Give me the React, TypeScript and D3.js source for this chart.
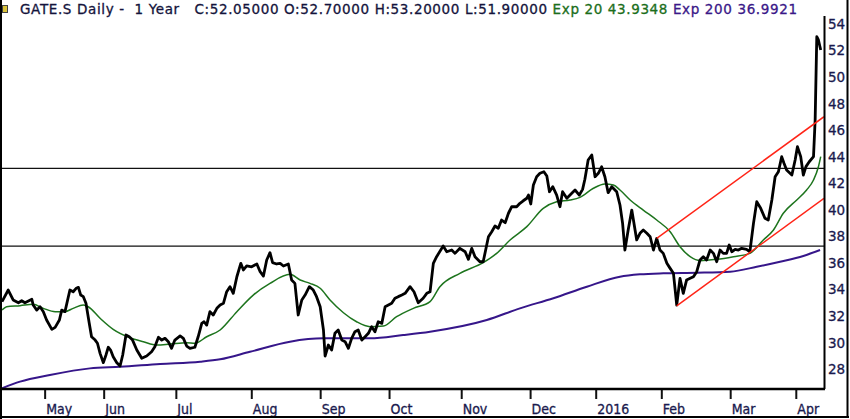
import { useEffect, useRef } from 'react';
import * as d3 from 'd3';

// [trading day index, price]
const closeSeries: [number, number][] = [
  [0, 33.09], [1.9, 33.97], [3.4, 33.22], [5.0, 33.01], [6.0, 33.16], [7.0, 33.01], [9.1, 33.27], [9.5, 32.84],
  [10.6, 32.46], [11.6, 32.71], [12.6, 32.34], [13.6, 31.71], [15.2, 31.01], [16.2, 31.16], [17.5, 31.71], [18.2, 32.46],
  [19.2, 32.34], [20.7, 33.97], [21.7, 33.84], [22.6, 34.10], [23.3, 34.17], [24.0, 33.59], [24.8, 33.47], [25.6, 32.97],
  [26.6, 31.46], [27.3, 30.45], [28.4, 30.20], [29.1, 29.96], [29.9, 29.20], [30.9, 28.50], [31.7, 29.08], [32.4, 29.66],
  [33.1, 29.45], [33.9, 28.95], [35.0, 28.50], [36.0, 28.25], [36.8, 29.08], [37.8, 30.58], [38.8, 30.45], [39.8, 30.20],
  [41.1, 29.45], [42.6, 28.83], [44.1, 29.00], [45.6, 29.32], [46.6, 29.70], [47.7, 30.41], [48.7, 30.20], [49.7, 30.33],
  [50.7, 30.08], [51.7, 29.58], [52.7, 30.20], [54.3, 30.51], [55.3, 30.33], [56.3, 29.75], [57.3, 29.58], [58.8, 29.66],
  [59.8, 30.45], [60.9, 31.46], [61.6, 31.58], [62.4, 31.33], [63.4, 32.34], [64.4, 32.09], [65.5, 32.59], [66.5, 32.84],
  [67.5, 32.97], [68.5, 33.84], [69.5, 34.22], [70.5, 33.72], [71.6, 34.97], [72.8, 35.98], [73.6, 35.48], [74.6, 35.78],
  [76.1, 35.72], [77.7, 35.93], [78.7, 35.35], [79.7, 35.02], [80.7, 36.23], [81.7, 36.78], [82.5, 36.03], [83.7, 35.93],
  [84.8, 35.98], [85.8, 35.78], [87.3, 35.93], [88.3, 34.72], [89.3, 34.47], [90.3, 32.09], [91.4, 33.22], [92.4, 33.59],
  [93.7, 34.22], [94.9, 33.97], [95.9, 33.47], [97.0, 32.71], [98.0, 30.96], [98.5, 29.00], [99.5, 29.83], [100.5, 29.45],
  [101.5, 30.71], [102.5, 30.96], [103.6, 30.20], [104.6, 30.08], [105.6, 29.58], [106.6, 30.33], [107.6, 30.83], [108.6, 30.96],
  [109.7, 30.20], [110.7, 30.45], [111.7, 30.71], [112.7, 31.21], [113.7, 30.83], [114.7, 31.58], [115.8, 31.46], [116.8, 32.71],
  [117.8, 32.84], [118.8, 32.97], [119.8, 33.35], [120.8, 33.47], [121.9, 33.59], [122.9, 33.72], [124.4, 34.22], [125.6, 33.84],
  [126.9, 33.01], [128.4, 33.35], [129.5, 33.72], [130.5, 33.84], [131.5, 35.98], [132.5, 36.48], [134.5, 37.28], [135.6, 36.85],
  [137.1, 36.98], [138.1, 36.73], [139.6, 37.11], [141.2, 36.85], [142.2, 36.28], [143.2, 37.11], [144.2, 36.48], [145.7, 36.10],
  [146.7, 36.10], [148.3, 37.98], [149.3, 38.36], [150.3, 38.79], [151.3, 38.62], [152.3, 39.24], [153.4, 39.04], [154.4, 39.75],
  [155.4, 40.24], [156.9, 40.24], [157.9, 40.50], [158.9, 40.69], [160.0, 40.88], [160.5, 41.12], [161.2, 40.45], [162.0, 41.88],
  [163.0, 42.50], [164.0, 42.76], [165.2, 42.88], [166.1, 42.55], [166.9, 41.37], [167.9, 41.75], [169.1, 41.12], [170.1, 40.24],
  [170.9, 41.37], [172.2, 40.88], [173.7, 41.25], [174.7, 41.50], [176.0, 41.12], [177.0, 41.55], [177.7, 42.31], [178.7, 43.76],
  [179.8, 44.14], [180.8, 42.50], [181.8, 42.76], [182.8, 43.25], [183.8, 42.50], [184.8, 41.30], [185.9, 41.75], [187.4, 41.37],
  [188.4, 40.37], [189.2, 38.99], [189.9, 36.98], [190.9, 38.49], [192.0, 39.99], [192.5, 39.24], [193.5, 37.74], [194.5, 38.24],
  [195.5, 38.49], [196.6, 38.24], [197.6, 37.98], [198.6, 36.98], [199.6, 37.86], [200.6, 36.98], [201.6, 36.73], [202.7, 35.98],
  [203.7, 35.60], [204.7, 35.23], [205.7, 32.84], [206.7, 34.85], [207.7, 33.72], [208.7, 34.72], [209.8, 34.85], [210.8, 34.97],
  [211.8, 35.35], [212.8, 36.23], [213.8, 36.48], [214.8, 36.23], [215.9, 36.98], [216.9, 36.73], [217.9, 36.10], [218.9, 36.98],
  [219.9, 36.73], [220.9, 36.73], [221.7, 37.36], [222.5, 36.85], [223.5, 37.03], [224.5, 36.98], [225.5, 37.11], [227.0, 37.03],
  [228.0, 36.85], [229.1, 38.99], [230.1, 40.62], [231.3, 40.12], [232.6, 39.37], [233.6, 39.24], [234.7, 40.75], [235.7, 42.50],
  [236.7, 42.88], [237.7, 44.01], [238.4, 43.51], [239.2, 43.01], [240.8, 42.63], [241.8, 43.76], [242.5, 44.76], [243.5, 44.01],
  [244.3, 42.63], [245.1, 43.26], [246.1, 43.63], [247.4, 44.01], [247.9, 46.77], [248.4, 53.04], [248.9, 52.80], [249.6, 52.04]
];

const ema20Series: [number, number][] = [
  [0, 32.46], [1.4, 32.71], [5.5, 32.79], [9.5, 32.89], [12.6, 32.59], [16.2, 32.34], [19.2, 32.34], [21.7, 32.59],
  [24.8, 32.84], [26.3, 32.71], [29.9, 31.84], [33.9, 31.01], [39.0, 30.38], [43.1, 30.08], [47.2, 29.83], [51.2, 29.90],
  [56.3, 30.00], [58.8, 29.96], [62.4, 30.45], [66.5, 30.96], [71.6, 32.34], [76.6, 33.59], [81.7, 34.47], [87.8, 35.15],
  [90.9, 34.72], [93.9, 34.47], [97.0, 34.10], [100.0, 33.22], [104.1, 32.26], [108.1, 31.58], [112.2, 31.21], [116.3, 31.26],
  [120.3, 31.96], [125.4, 32.59], [130.5, 33.09], [133.5, 34.22], [139.6, 35.23], [146.7, 36.03], [150.8, 36.73], [154.9, 37.74],
  [160.0, 38.74], [165.0, 40.12], [169.1, 40.62], [173.2, 40.75], [176.2, 40.95], [180.3, 41.63], [183.8, 41.95], [186.4, 41.88],
  [188.4, 41.50], [191.5, 40.75], [195.5, 39.99], [199.6, 39.24], [203.7, 38.36], [206.7, 37.23], [209.8, 36.48], [212.8, 36.18],
  [217.9, 36.28], [223.0, 36.48], [228.0, 36.73], [232.1, 37.74], [235.2, 38.49], [238.2, 39.75], [242.3, 40.75], [245.3, 41.50],
  [247.4, 42.25], [248.9, 43.25], [249.6, 44.01]
];

const ema200Series: [number, number][] = [
  [0, 26.57], [5.5, 27.07], [14.6, 27.57], [26.8, 28.07], [36.0, 28.19], [48.2, 28.40], [60.4, 28.57], [66.5, 28.75],
  [75.6, 29.32], [87.8, 30.08], [98.0, 30.33], [112.2, 30.33], [122.3, 30.58], [130.5, 30.83], [147.8, 31.71], [157.9, 32.59],
  [168.1, 33.35], [178.3, 34.22], [188.4, 34.97], [194.5, 35.15], [201.6, 35.23], [211.8, 35.27], [222.0, 35.35], [230.1, 35.72],
  [237.2, 36.10], [244.3, 36.53], [249.4, 36.98]
];

const trendLines: [number, number][][] = [
  [[199.6, 37.86], [250.6, 47.02]],
  [[205.7, 32.77], [250.6, 40.88]]
];

const levels = [43.13, 37.27];

const monthTicks = [13, 31, 53, 76, 97, 118, 140, 161, 181, 201, 222, 242];
const monthLabels = ['May', 'Jun', 'Jul', 'Aug', 'Sep', 'Oct', 'Nov', 'Dec', '2016', 'Feb', 'Mar', 'Apr'];
const priceTicks = [28, 30, 32, 34, 36, 38, 40, 42, 44, 46, 48, 50, 52, 54];

const headerParts = [
  { text: 'GATE.S Daily -  1 Year   C:52.05000 O:52.70000 H:53.20000 L:51.90000 ', color: '#14143c' },
  { text: 'Exp 20 43.9348 ', color: '#1b6e1b' },
  { text: 'Exp 200 36.9921', color: '#3a1888' }
];

export default function App() {
  const svgRef = useRef(null);

  useEffect(() => {
    if (!svgRef.current) return;
    const width = 850;
    const height = 419;
    const left = 2;
    const right = 824;
    const top = 16;
    const bottom = 389;

    const svg = d3.select(svgRef.current);
    svg.selectAll('*').remove();
    svg.attr('width', width).attr('height', height);

    const x = d3.scaleLinear().domain([0, 250.6]).range([left, right]);
    const y = d3.scaleLinear().domain([28, 54]).range([369.3, 24]);

    svg.append('rect').attr('width', width).attr('height', height).attr('fill', '#ffffff');

    svg.append('defs').append('clipPath').attr('id', 'plot')
      .append('rect')
      .attr('x', left).attr('y', top)
      .attr('width', right - left).attr('height', bottom - top);

    const plot = svg.append('g').attr('clip-path', 'url(#plot)');

    // horizontal levels
    plot.selectAll('.level')
      .data(levels)
      .enter()
      .append('line')
      .attr('x1', left).attr('x2', right)
      .attr('y1', d => y(d)).attr('y2', d => y(d))
      .attr('stroke', '#111')
      .attr('stroke-width', 1.2);

    const line = d3.line<[number, number]>()
      .x(d => x(d[0]))
      .y(d => y(d[1]));

    const smooth = d3.line<[number, number]>()
      .x(d => x(d[0]))
      .y(d => y(d[1]))
      .curve(d3.curveMonotoneX);

    plot.append('path')
      .datum(ema200Series)
      .attr('d', smooth)
      .attr('fill', 'none')
      .attr('stroke', '#36168a')
      .attr('stroke-width', 2);

    plot.append('path')
      .datum(ema20Series)
      .attr('d', smooth)
      .attr('fill', 'none')
      .attr('stroke', '#1d741d')
      .attr('stroke-width', 1.5);

    plot.append('path')
      .datum(closeSeries)
      .attr('d', line)
      .attr('fill', 'none')
      .attr('stroke', '#000')
      .attr('stroke-width', 2.8)
      .attr('stroke-linejoin', 'round');

    plot.selectAll('.trend')
      .data(trendLines)
      .enter()
      .append('path')
      .attr('d', line)
      .attr('fill', 'none')
      .attr('stroke', '#ff2417')
      .attr('stroke-width', 1.5);

    // bottom axis
    const xAxis = d3.axisBottom(x)
      .tickValues(monthTicks)
      .tickSize(10)
      .tickFormat((d, i) => monthLabels[i]);

    const gx = svg.append('g')
      .attr('transform', `translate(0, ${bottom})`)
      .call(xAxis);
    gx.select('.domain').remove();
    gx.selectAll('.tick line').attr('stroke', '#111').attr('stroke-width', 2);
    gx.selectAll('.tick text')
      .attr('text-anchor', 'start')
      .attr('x', 1)
      .attr('y', 25)
      .attr('dy', 0)
      .attr('fill', '#1a1a4e')
      .attr('stroke', '#1a1a4e')
      .attr('stroke-width', 0.3)
      .attr('font-family', '"DejaVu Sans Condensed", "DejaVu Sans", sans-serif')
      .attr('font-size', 14);

    // right axis
    const yAxis = d3.axisRight(y)
      .tickValues(priceTicks)
      .tickSize(0)
      .tickPadding(4);

    const gy = svg.append('g')
      .attr('transform', `translate(${right}, 0)`)
      .call(yAxis);
    gy.select('.domain').remove();
    gy.selectAll('.tick text')
      .attr('fill', '#1a1a4e')
      .attr('stroke', '#1a1a4e')
      .attr('stroke-width', 0.3)
      .attr('font-family', '"DejaVu Sans", sans-serif')
      .attr('font-size', 13.5);

    // axis lines
    svg.append('line')
      .attr('x1', 0).attr('x2', right + 1)
      .attr('y1', bottom).attr('y2', bottom)
      .attr('stroke', '#000').attr('stroke-width', 2.5);
    svg.append('line')
      .attr('x1', right + 0.5).attr('x2', right + 0.5)
      .attr('y1', top).attr('y2', bottom)
      .attr('stroke', '#000').attr('stroke-width', 2);

    // outer frame
    svg.append('rect').attr('x', 0).attr('y', 0).attr('width', 2).attr('height', height).attr('fill', '#000');
    svg.append('rect').attr('x', 0).attr('y', 416).attr('width', 849).attr('height', 2).attr('fill', '#000');
    svg.append('rect').attr('x', 846.5).attr('y', 0).attr('width', 2).attr('height', 418).attr('fill', '#000');

    // header
    svg.append('rect')
      .attr('x', 2.5).attr('y', 5.5).attr('width', 5).attr('height', 7)
      .attr('fill', '#d9c23a').attr('stroke', '#444').attr('stroke-width', 1);

    const header = svg.append('text')
      .attr('x', 20)
      .attr('y', 14)
      .attr('font-family', '"DejaVu Sans", sans-serif')
      .attr('font-size', 13.5)
      .attr('textLength', 777)
      .attr('lengthAdjust', 'spacing')
      .style('white-space', 'pre');
    headerParts.forEach(p => {
      header.append('tspan')
        .attr('fill', p.color)
        .attr('stroke', p.color)
        .attr('stroke-width', 0.3)
        .text(p.text);
    });
  }, []);

  return (
    <div style={{ position: 'absolute', left: 0, top: 0 }}>
      <svg ref={svgRef} style={{ display: 'block' }} />
    </div>
  );
}
